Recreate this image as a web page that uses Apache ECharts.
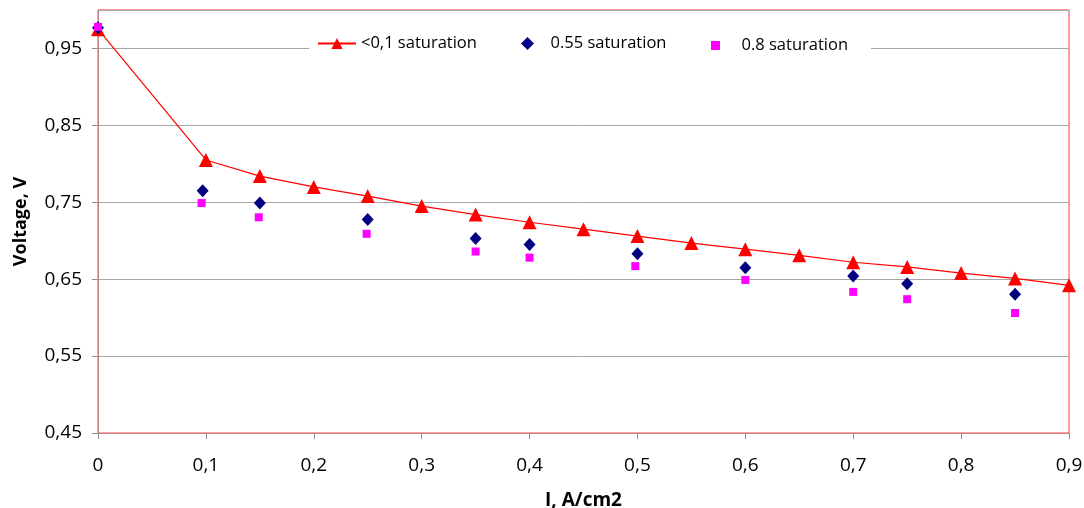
<!DOCTYPE html>
<html>
<head>
<meta charset="utf-8">
<script src="https://cdn.jsdelivr.net/npm/echarts@6/dist/echarts.min.js"></script>
<style>html,body{margin:0;padding:0;background:#fff}#c{width:1084px;height:508px}</style>
</head>
<body>
<div id="c"></div>
<script>
// Series names
const seriesNames = ['<0,1 saturation', '0.55 saturation', '0.8 saturation'];
// <0,1 saturation (line with triangles)
const lowX = [0, 0.1, 0.15, 0.2, 0.25, 0.3, 0.35, 0.4, 0.45, 0.5, 0.55, 0.6, 0.65, 0.7, 0.75, 0.8, 0.85, 0.9];
const lowY = [0.975, 0.805, 0.784, 0.770, 0.758, 0.745, 0.734, 0.724, 0.715, 0.706, 0.697, 0.689, 0.681, 0.672, 0.666, 0.658, 0.651, 0.642];
// 0.55 saturation (diamonds)
const midX = [0, 0.097, 0.15, 0.25, 0.35, 0.4, 0.5, 0.6, 0.7, 0.75, 0.85];
const midY = [0.977, 0.765, 0.749, 0.7275, 0.703, 0.695, 0.683, 0.665, 0.654, 0.644, 0.6305];
// 0.8 saturation (squares)
const highX = [0, 0.096, 0.149, 0.249, 0.35, 0.4, 0.498, 0.6, 0.7, 0.75, 0.85];
const highY = [0.978, 0.749, 0.7305, 0.709, 0.686, 0.678, 0.667, 0.649, 0.6335, 0.624, 0.606];
// Axis settings
const xTicks = {min: 0, max: 0.9, interval: 0.1};
const yTicks = {min: 0.45, max: 1.0, interval: 0.1};

const zip = (xs, ys) => xs.map((x, i) => [x, ys[i]]);
const FONT = 'Open Sans';
const legendText = {fontFamily: FONT, fontSize: 16.5, color: '#000'};
const chart = echarts.init(document.getElementById('c'), null, {renderer: 'canvas'});
chart.setOption({
  animation: false,
  backgroundColor: '#ffffff',
  textStyle: {fontFamily: FONT},
  grid: {left: 98, right: 15, top: 10, bottom: 75, outerBoundsMode: 'none', containLabel: false,
         show: true, borderColor: '#FF3B3B', borderWidth: 1, backgroundColor: '#ffffff'},
  graphic: [{type: 'rect', z: 50, shape: {x: 309, y: 34, width: 562, height: 20}, style: {fill: '#ffffff'}, silent: true}],
  legend: [
    {z: 60, top: 35, left: 317, padding: 0, itemWidth: 38, itemHeight: 14, textStyle: legendText, data: [seriesNames[0]], selectedMode: false},
    {z: 60, top: 35, left: 521, padding: 0, itemWidth: 36, itemHeight: 13, textStyle: legendText, selectedMode: false,
     data: [{name: seriesNames[1], icon: 'path://M0,-1L1,0L0,1L-1,0Z'}]},
    {z: 60, top: 37, left: 711, padding: 0, itemWidth: 42, itemHeight: 9, textStyle: legendText, selectedMode: false,
     data: [{name: seriesNames[2], icon: 'path://M0,0L1,0L1,1L0,1Z'}]}
  ],
  xAxis: {
    type: 'value', min: xTicks.min, max: xTicks.max, interval: xTicks.interval,
    name: 'I, A/cm2', nameLocation: 'middle', nameGap: 58,
    nameTextStyle: {fontFamily: FONT, fontSize: 19, fontWeight: 'bold', color: '#000'},
    axisLine: {show: true, lineStyle: {color: '#C98686', width: 1}},
    axisTick: {show: true, length: 6, lineStyle: {color: '#909090'}},
    splitLine: {show: false},
    axisLabel: {margin: 23, fontFamily: FONT, fontSize: 19, color: '#000', formatter: v => String(+v.toFixed(2)).replace('.', ',')}
  },
  yAxis: {
    type: 'value', min: yTicks.min, max: yTicks.max, interval: yTicks.interval,
    name: 'Voltage, V', nameLocation: 'middle', nameGap: 68, nameRotate: 90,
    nameTextStyle: {fontFamily: FONT, fontSize: 18, fontWeight: 'bold', color: '#000'},
    axisLine: {show: true, lineStyle: {color: '#C98686', width: 1}},
    axisTick: {show: true, length: 6, lineStyle: {color: '#909090'}},
    splitLine: {show: true, lineStyle: {color: '#A6A6A6', width: 1}},
    axisLabel: {margin: 16, showMaxLabel: false, fontFamily: FONT, fontSize: 19, color: '#000', formatter: v => v.toFixed(2).replace('.', ',')}
  },
  series: [
    {name: seriesNames[0], type: 'line', data: zip(lowX, lowY), symbol: 'triangle', symbolSize: 14,
     lineStyle: {color: '#FF0000', width: 1.2}, itemStyle: {color: '#FF0000', opacity: 1}, z: 3},
    {name: seriesNames[1], type: 'scatter', data: zip(midX, midY), symbol: 'diamond', symbolSize: [12, 13],
     itemStyle: {color: '#000080', opacity: 1}, z: 4},
    {name: seriesNames[2], type: 'scatter', data: zip(highX, highY), symbol: 'rect', symbolSize: 8,
     itemStyle: {color: '#FF00FF', opacity: 1}, z: 5}
  ]
});
</script>
</body>
</html>
